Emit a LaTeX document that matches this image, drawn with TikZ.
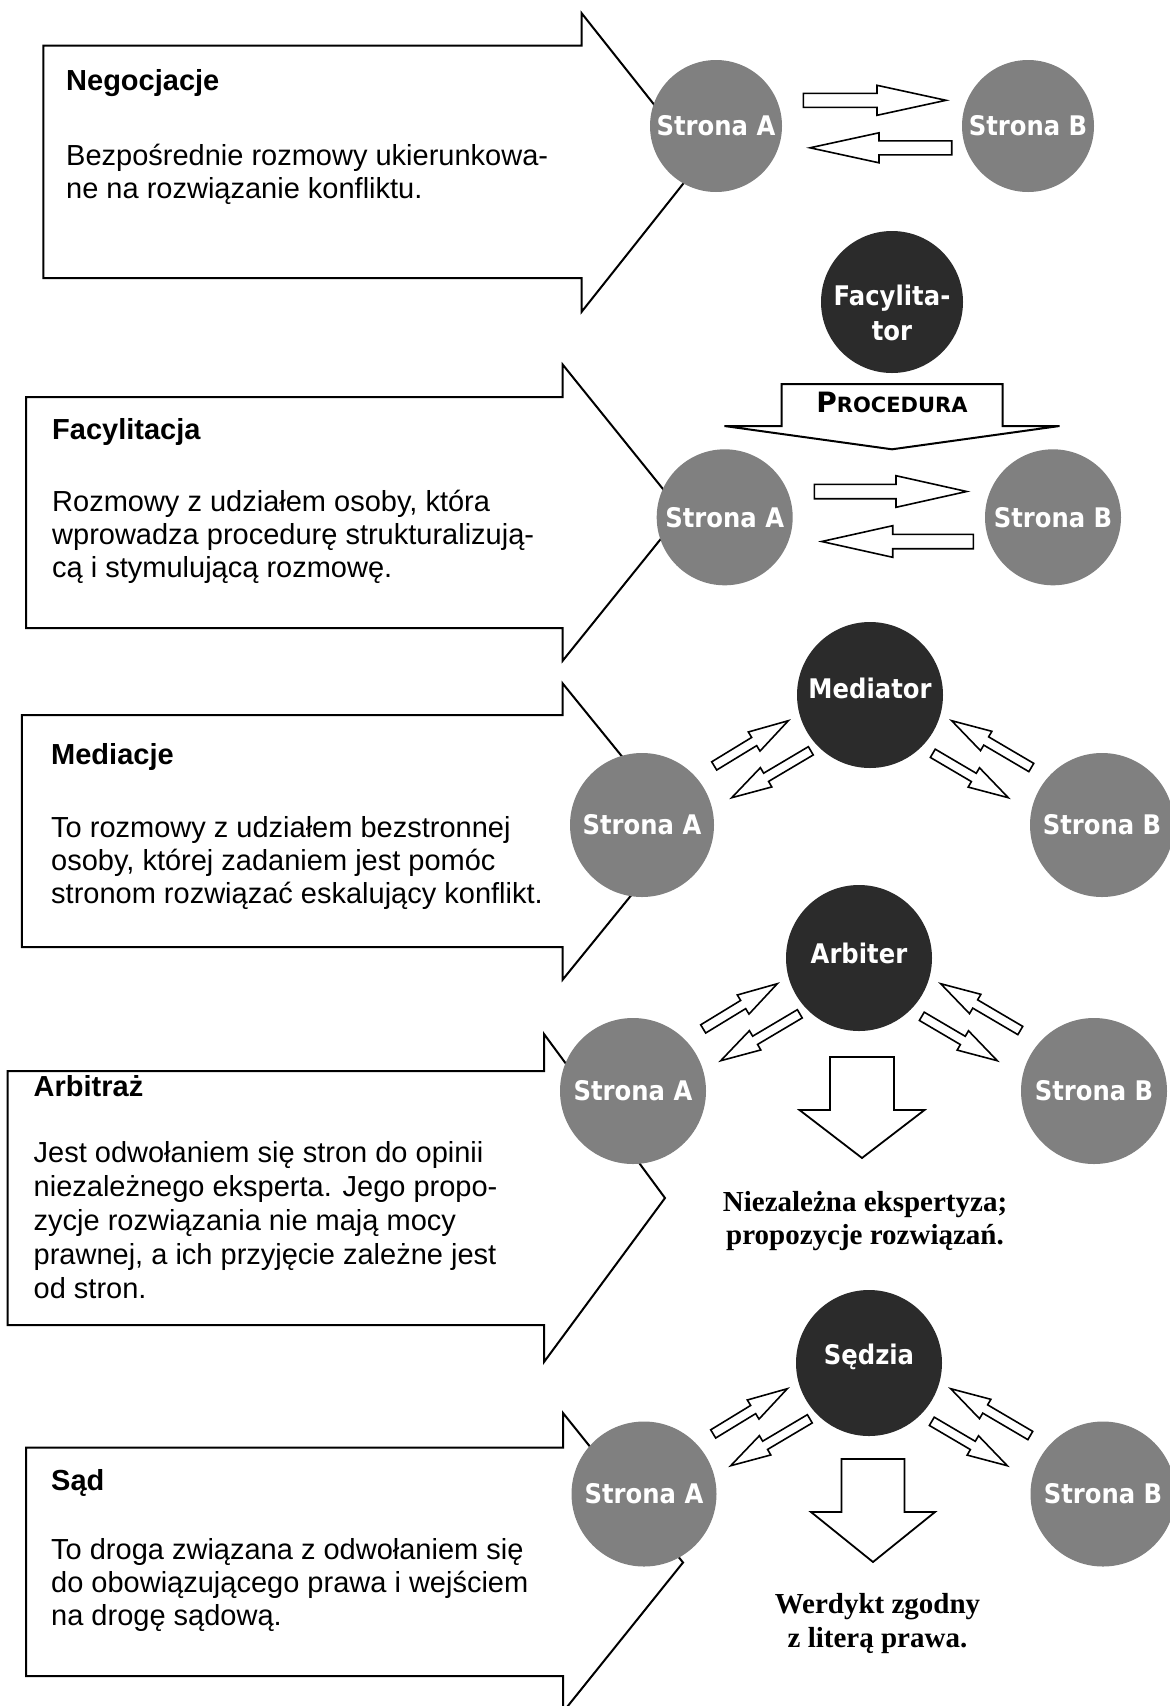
\documentclass[tikz,border=0pt]{standalone}
\usepackage{fontspec}
\setmainfont{Liberation Sans}
\newfontfamily\circfont[FakeStretch=0.9]{DejaVu Sans}
\newfontfamily\procfont{DejaVu Sans}
\newfontfamily\serfont{Liberation Serif}
\usetikzlibrary{calc}

\definecolor{partygrey}{HTML}{808080}
\definecolor{thirdgrey}{HTML}{2B2B2B}

% block arrow: [style]{tail}{tip}{body half width}{head length}{head half width}
\newcommand\blkarrow[6][]{%
  \coordinate (ba-h) at ($(#3)!#5!(#2)$);
  \draw[#1] ($(#2)!#4!90:(#3)$) -- ($(ba-h)!#4!90:(#3)$) -- ($(ba-h)!#6!90:(#3)$)
    -- (#3) -- ($(ba-h)!#6!-90:(#3)$) -- ($(ba-h)!#4!-90:(#3)$)
    -- ($(#2)!#4!-90:(#3)$) -- cycle;
}

% four exchange arrows between a third party and both sides
\newcommand\exchange[1]{%
  \coordinate (#1-ult) at ($(#1)+(-155.8,70.9)$);
  \coordinate (#1-ulh) at ($(#1)+(-81.7,25.7)$);
  \coordinate (#1-llt) at ($(#1)+(-59.2,55.8)$);
  \coordinate (#1-llh) at ($(#1)+(-138.3,102.7)$);
  \coordinate (#1-urt) at ($(#1)+(161.3,72.5)$);
  \coordinate (#1-urh) at ($(#1)+(81.7,25.7)$);
  \coordinate (#1-lrt) at ($(#1)+(62.8,58.3)$);
  \coordinate (#1-lrh) at ($(#1)+(138.3,102.7)$);
  \blkarrow[smallarrow]{#1-ult}{#1-ulh}{4.8pt}{40pt}{11.2pt}
  \blkarrow[smallarrow]{#1-llt}{#1-llh}{4.8pt}{40pt}{11.2pt}
  \blkarrow[smallarrow]{#1-urt}{#1-urh}{4.8pt}{40pt}{11.2pt}
  \blkarrow[smallarrow]{#1-lrt}{#1-lrh}{4.8pt}{40pt}{11.2pt}
}

\begin{document}
\begin{tikzpicture}[x=1pt, y=-1pt,
  bigarrow/.style={draw=black, line width=2pt, fill=white, line join=miter},
  smallarrow/.style={draw=black, line width=1.6pt, fill=white, line join=miter},
  party/.style={circle, fill=partygrey, inner sep=0pt, text=white,
    font=\circfont\bfseries\fontsize{27pt}{30pt}\selectfont},
  third/.style={circle, fill=thirdgrey, inner sep=0pt},
  thirdtext/.style={text=white, align=center, inner sep=0pt,
    font=\circfont\bfseries\fontsize{27pt}{35pt}\selectfont},
  heading/.style={anchor=base west, inner sep=0pt,
    font=\bfseries\fontsize{29pt}{33pt}\selectfont},
  % multi-line texts are placed by the baseline of their last line
  desc/.style={anchor=base west, inner sep=0pt, align=left,
    font=\fontsize{29pt}{33pt}\selectfont},
  outcome/.style={anchor=base, inner sep=0pt, align=center,
    font=\serfont\bfseries\fontsize{29pt}{33pt}\selectfont}]

\path[use as bounding box, fill=white] (0,0) rectangle (1170,1706);

% ---------- description arrows ----------
\draw[bigarrow] (43.3,45.7) -- (581.7,45.7) -- (581.7,13.3) -- (700,162.5)
  -- (581.7,311.7) -- (581.7,278) -- (43.3,278) -- cycle;
\draw[bigarrow] (26,397) -- (562.7,397) -- (562.7,364.6) -- (682,512.6)
  -- (562.7,660.7) -- (562.7,628) -- (26,628) -- cycle;
\draw[bigarrow] (21.8,715) -- (562.7,715) -- (562.7,683.5) -- (683,831.5)
  -- (562.7,979.6) -- (562.7,947) -- (21.8,947) -- cycle;
\draw[bigarrow] (7.6,1071) -- (544,1071) -- (544,1034) -- (665,1198)
  -- (544,1362) -- (544,1325) -- (7.6,1325) -- cycle;
\draw[bigarrow] (26,1447.6) -- (563,1447.6) -- (563,1413) -- (683,1562.5)
  -- (563,1712) -- (563,1676) -- (26,1676) -- cycle;

% ---------- texts ----------
\node[heading] (t1) at (66,90) {Negocjacje};
\node[desc] (d1) at (66,198.6) {Bezpośrednie rozmowy ukierunkowa-\\ne na rozwiązanie konfliktu.};

\node[heading] (t2) at (52,439.4) {Facylitacja};
\node[desc] (d2) at (52,577.6) {Rozmowy z udziałem osoby, która\\wprowadza procedurę strukturalizują-\\cą i stymulującą rozmowę.};

\node[heading] (t3) at (51,764.8) {Mediacje};
\node[desc] (d3) at (51,903) {To rozmowy z udziałem bezstronnej\\osoby, której zadaniem jest pomóc\\stronom rozwiązać eskalujący konflikt.};

\node[heading] (t4) at (33.5,1096.7) {Arbitraż};
\node[desc, font=\fontsize{29pt}{34pt}\selectfont] (d4) at (33.5,1298) {Jest odwołaniem się stron do opinii\\niezależnego eksperta. Jego propo-\\zycje rozwiązania nie mają mocy\\prawnej, a ich przyjęcie zależne jest\\od stron.};

\node[heading] (t5) at (51,1490.8) {Sąd};
\node[desc] (d5) at (51,1625) {To droga związana z odwołaniem się\\do obowiązującego prawa i wejściem\\na drogę sądową.};

% ---------- negotiation ----------
\node[party, minimum size=132pt] (a1) at (716,126) {Strona A};
\node[party, minimum size=132pt] (b1) at (1028,126) {Strona B};
\coordinate (a1out) at (803.3,100.3);
\coordinate (b1in) at (946,100.3);
\coordinate (b1out) at (951.7,147.8);
\coordinate (a1in) at (810,147.8);
\blkarrow[smallarrow]{a1out}{b1in}{7pt}{69pt}{15pt}
\blkarrow[smallarrow]{b1out}{a1in}{7pt}{69pt}{15pt}

% ---------- facilitation ----------
\node[third, minimum size=142pt,
  label={[thirdtext, yshift=-11pt]center:Facylita-\\tor}] (fac) at (892,302) {};
\coordinate (proctail) at (892,384);
\coordinate (proctip) at (892,449.3);
\blkarrow[smallarrow, line width=2pt]{proctail}{proctip}{110.5pt}{23.3pt}{167.5pt}
\node[inner sep=0pt, anchor=base, font=\procfont\bfseries] (proc) at (892,412.3)
  {{\fontsize{28pt}{30pt}\selectfont P}{\fontsize{21pt}{24pt}\selectfont ROCEDURA}};
\node[party, minimum size=136pt] (a2) at (724.7,517.3) {Strona A};
\node[party, minimum size=136pt] (b2) at (1053,517.3) {Strona B};
\coordinate (a2out) at (814.3,491.5);
\coordinate (b2in) at (966.7,491.5);
\coordinate (b2out) at (973.3,541.5);
\coordinate (a2in) at (821.7,541.5);
\blkarrow[smallarrow]{a2out}{b2in}{7.2pt}{70.7pt}{15.8pt}
\blkarrow[smallarrow]{b2out}{a2in}{7.2pt}{71pt}{15.8pt}

% ---------- mediation ----------
\node[third, minimum size=146pt,
  label={[thirdtext, yshift=7pt]center:Mediator}] (med) at (870,695) {};
\node[party, minimum size=144pt] (a3) at (642,825) {Strona A};
\node[party, minimum size=144pt] (b3) at (1102,825) {Strona B};
\exchange{med}

% ---------- arbitration ----------
\node[third, minimum size=146pt,
  label={[thirdtext, yshift=5pt]center:Arbiter}] (arb) at (859,958) {};
\node[party, minimum size=146pt] (a4) at (633,1091) {Strona A};
\node[party, minimum size=146pt] (b4) at (1094,1091) {Strona B};
\exchange{arb}
\coordinate (arbtail) at (862,1057);
\coordinate (arbtip) at (862,1158);
\blkarrow[smallarrow, line width=1.8pt]{arbtail}{arbtip}{32pt}{48pt}{62.5pt}
\node[outcome] (o4) at (865,1244.7) {Niezależna ekspertyza;\\propozycje rozwiązań.};

% ---------- court ----------
\node[third, minimum size=146pt,
  label={[thirdtext, yshift=6pt]center:Sędzia}] (sed) at (869,1363) {};
\node[party, minimum size=145pt] (a5) at (644,1494) {Strona A};
\node[party, minimum size=145pt] (b5) at (1103,1494) {Strona B};
\exchange{sed}
\coordinate (sedtail) at (873,1459);
\coordinate (sedtip) at (873,1562);
\blkarrow[smallarrow, line width=1.8pt]{sedtail}{sedtip}{31.5pt}{50pt}{62pt}
\node[outcome, font=\serfont\bfseries\fontsize{29pt}{34pt}\selectfont] (o5) at (877.5,1647) {Werdykt zgodny\\z literą prawa.};

\end{tikzpicture}
\end{document}
